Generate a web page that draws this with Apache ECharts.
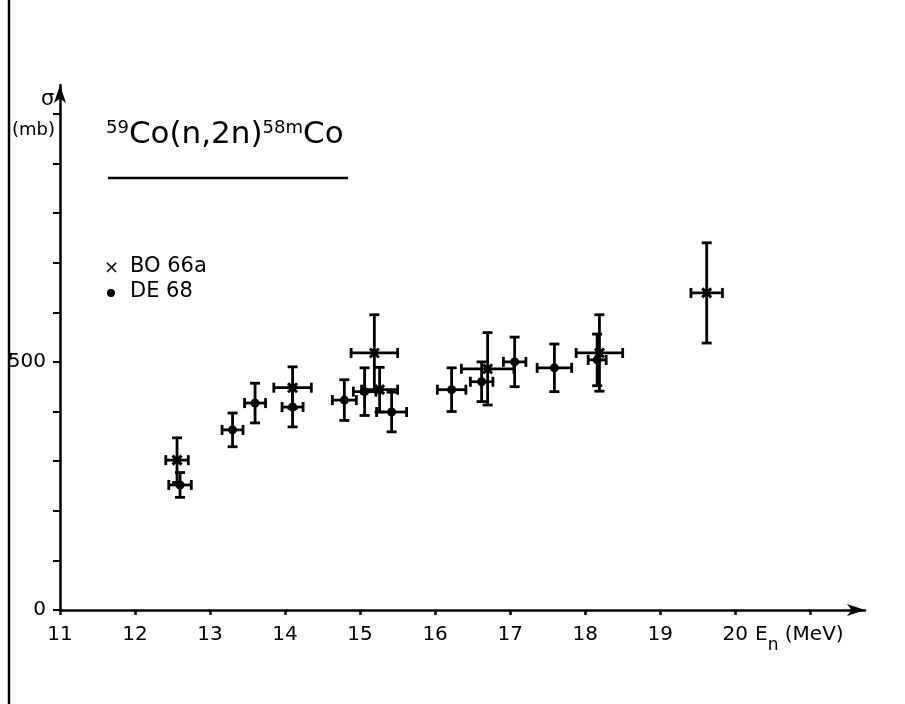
<!DOCTYPE html>
<html><head><meta charset="utf-8">
<script src="https://cdn.jsdelivr.net/npm/echarts@6/dist/echarts.min.js"></script>
<style>html,body{margin:0;padding:0;background:#fff}#c{width:905px;height:704px}</style>
</head><body><div id="c"></div>
<script>
// ---- data ----
const xTickValues = [11, 12, 13, 14, 15, 16, 17, 18, 19, 20, 21];
const xLabelValues = [11, 12, 13, 14, 15, 16, 17, 18, 19, 20];
const yTickValues = [0, 100, 200, 300, 400, 500, 600, 700, 800, 900, 1000];
const yLabelValues = [0, 500];

// BO 66a : energy (MeV), sigma (mb), dE, dSigma
const boE      = [12.56, 14.10, 15.19, 15.26, 16.70, 18.19, 19.62];
const boSigma  = [302, 448, 518, 444, 486, 518, 639];
const boErrE   = [0.15, 0.25, 0.31, 0.24, 0.35, 0.31, 0.21];
const boErrS   = [45, 42, 77, 45, 73, 77, 101];

// DE 68
const deE      = [12.60, 13.30, 13.60, 14.10, 14.79, 15.06, 15.42, 16.22, 16.62, 17.06, 17.59, 18.16];
const deSigma  = [252, 363, 417, 409, 423, 440, 399, 444, 460, 500, 488, 504];
const deErrE   = [0.15, 0.14, 0.14, 0.14, 0.16, 0.15, 0.20, 0.19, 0.15, 0.15, 0.23, 0.12];
const deErrS   = [25, 34, 40, 40, 41, 48, 40, 44, 40, 50, 48, 52];

const FONT = 'DejaVu Sans';

function rows(e, s, de, ds) { return e.map((v, i) => [v, s[i], de[i], ds[i]]); }

function makeRender(kind) {
  return function (params, api) {
    const x = api.value(0), y = api.value(1), dx = api.value(2), dy = api.value(3);
    const c = api.coord([x, y]);
    const l = api.coord([x - dx, y]), r = api.coord([x + dx, y]);
    const t = api.coord([x, y + dy]), b = api.coord([x, y - dy]);
    const cap = 5;
    const st = { stroke: '#000', lineWidth: 2.8, fill: null };
    const ln = (x1, y1, x2, y2) => ({ type: 'line', shape: { x1, y1, x2, y2 }, style: st });
    const ch = [
      ln(l[0], c[1], r[0], c[1]),
      ln(c[0], t[1], c[0], b[1]),
      ln(l[0], c[1] - cap, l[0], c[1] + cap),
      ln(r[0], c[1] - cap, r[0], c[1] + cap),
      ln(c[0] - cap, t[1], c[0] + cap, t[1]),
      ln(c[0] - cap, b[1], c[0] + cap, b[1])
    ];
    if (kind === 'dot') {
      ch.push({ type: 'circle', shape: { cx: c[0], cy: c[1], r: 4.5 }, style: { fill: '#000' } });
    } else {
      const m = 4.5;
      const s2 = { stroke: '#000', lineWidth: 3 };
      ch.push({ type: 'line', shape: { x1: c[0] - m, y1: c[1] - m, x2: c[0] + m, y2: c[1] + m }, style: s2 });
      ch.push({ type: 'line', shape: { x1: c[0] - m, y1: c[1] + m, x2: c[0] + m, y2: c[1] - m }, style: s2 });
      ch.push({ type: 'rect', shape: { x: c[0] - 3.5, y: c[1] - 3.5, width: 7, height: 7 }, style: { fill: '#000' } });
    }
    return { type: 'group', children: ch };
  };
}

const chart = echarts.init(document.getElementById('c'), null, { renderer: 'canvas' });
chart.setOption({
  animation: false,
  backgroundColor: '#fff',
  grid: { left: 60, right: 40, top: 85, bottom: 94 },
  xAxis: {
    type: 'value', min: 11, max: 21.73, interval: 1,
    splitLine: { show: false },
    axisLine: { lineStyle: { color: '#000', width: 2.5 }, symbol: ['none', 'arrow'], symbolSize: [9, 18] },
    axisTick: { length: 5, lineStyle: { color: '#000', width: 2.5 }, customValues: xTickValues },
    axisLabel: { customValues: xLabelValues, color: '#000', fontFamily: FONT, fontSize: 20, margin: 15 }
  },
  yAxis: {
    type: 'value', min: 0, max: 1058, interval: 100,
    splitLine: { show: false },
    axisLine: { lineStyle: { color: '#000', width: 2.5 }, symbol: ['none', 'arrow'], symbolSize: [9, 18] },
    axisTick: { length: 7, lineStyle: { color: '#000', width: 2 }, customValues: yTickValues },
    axisLabel: { customValues: yLabelValues, color: '#000', fontFamily: FONT, fontSize: 20, margin: 14 }
  },
  series: [
    { type: 'custom', name: 'BO 66a', renderItem: makeRender('x'), data: rows(boE, boSigma, boErrE, boErrS), encode: { x: 0, y: 1 } },
    { type: 'custom', name: 'DE 68', renderItem: makeRender('dot'), data: rows(deE, deSigma, deErrE, deErrS), encode: { x: 0, y: 1 } }
  ],
  graphic: [
    { type: 'line', shape: { x1: 9, y1: 0, x2: 9, y2: 704 }, style: { stroke: '#000', lineWidth: 2.5 } },
    { type: 'text', left: 106, top: 119, style: {
        text: '{s|59}{m|Co(n,2n)}{s|58m}{m|Co}',
        rich: {
          s: { fontFamily: FONT, fontSize: 18, lineHeight: 18, verticalAlign: 'top', fill: '#000' },
          m: { fontFamily: FONT, fontSize: 31, lineHeight: 44, verticalAlign: 'top', fill: '#000' }
        } } },
    { type: 'line', shape: { x1: 108, y1: 178, x2: 348, y2: 178 }, style: { stroke: '#000', lineWidth: 2.5 } },
    { type: 'text', left: 104, top: 259, style: { text: '×', fontFamily: FONT, fontSize: 18, fill: '#000' } },
    { type: 'text', left: 130, top: 256, style: { text: 'BO 66a', fontFamily: FONT, fontSize: 21, fill: '#000' } },
    { type: 'circle', shape: { cx: 111, cy: 293, r: 4 }, style: { fill: '#000' } },
    { type: 'text', left: 130, top: 281, style: { text: 'DE 68', fontFamily: FONT, fontSize: 21, fill: '#000' } },
    { type: 'text', left: 41, top: 89, style: { text: 'σ', fontFamily: FONT, fontSize: 21, fill: '#000' } },
    { type: 'text', left: 12, top: 121, style: { text: '(mb)', fontFamily: FONT, fontSize: 18, fill: '#000' } },
    { type: 'text', left: 755, top: 625, style: {
        text: '{m|E}{s|n}{m| (MeV)}',
        rich: {
          m: { fontFamily: FONT, fontSize: 20, lineHeight: 24, verticalAlign: 'top', fill: '#000' },
          s: { fontFamily: FONT, fontSize: 17, lineHeight: 36, verticalAlign: 'top', fill: '#000', padding: [12, 0, 0, 0] }
        } } }
  ]
});
</script>
</body></html>
